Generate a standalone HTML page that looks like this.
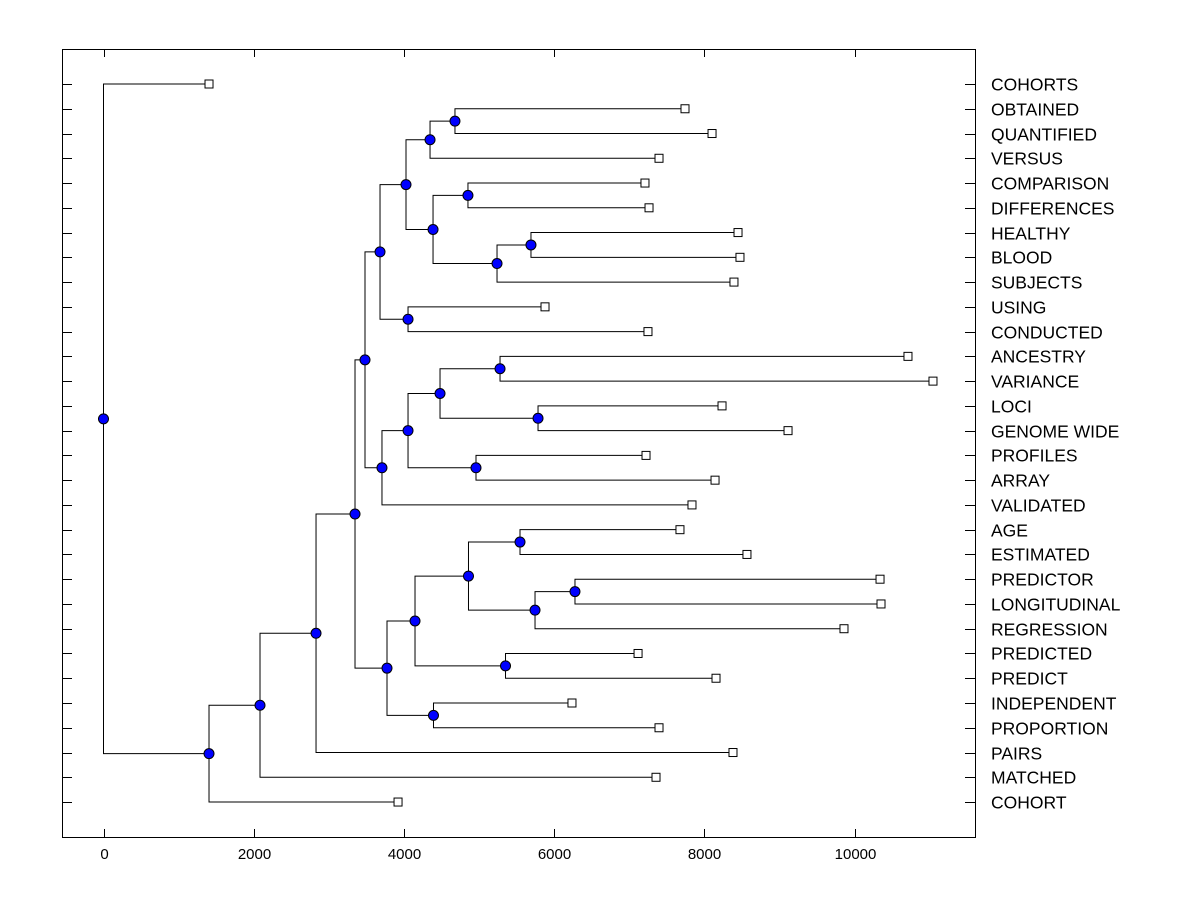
<!DOCTYPE html>
<html><head><meta charset="utf-8"><style>
html,body{margin:0;padding:0;background:#fff;}
svg{display:block;font-family:"Liberation Sans",Arial,sans-serif;}
</style></head><body>
<svg id="chart" width="1200" height="900" xmlns="http://www.w3.org/2000/svg">
<rect x="62.5" y="49.5" width="913" height="788" fill="none" stroke="#000" stroke-width="1"/>
<g id="axes"></g><g id="tree"></g><g id="marks"></g>
</svg>
<script>
const leafNames = ["COHORTS","OBTAINED","QUANTIFIED","VERSUS","COMPARISON","DIFFERENCES","HEALTHY","BLOOD","SUBJECTS","USING","CONDUCTED","ANCESTRY","VARIANCE","LOCI","GENOME WIDE","PROFILES","ARRAY","VALIDATED","AGE","ESTIMATED","PREDICTOR","LONGITUDINAL","REGRESSION","PREDICTED","PREDICT","INDEPENDENT","PROPORTION","PAIRS","MATCHED","COHORT"];
const leafValues = [1405,7743,8103,7397,7210,7264,8449,8475,8395,5879,7250,10712,11045,8236,9115,7224,8143,7836,7676,8568,10340,10353,9860,7118,8156,6238,7397,8382,7357,3922];
const mergeLeft  = [1,30,4,6,33,32,31,9,36,11,13,39,15,41,43,38,18,20,47,46,23,49,25,51,45,54,55,56,0];
const mergeRight = [2,3,5,7,8,34,35,10,37,12,14,40,16,42,17,44,19,21,22,48,24,50,26,52,53,27,28,29,57];
const mergeHeights = [4680,4348,4853,5692,5240,4388,4028,4055,3682,5280,5786,4481,4960,4055,3708,3482,5546,6278,5746,4860,5353,4148,4394,3775,3349,2830,2084,1405,0];
const xTicks = [0,2000,4000,6000,8000,10000];

const NS="http://www.w3.org/2000/svg";
const xScale = v => 103.5 + v*0.0751;
const yScale = i => 84 + i*24.76;
function mk(tag, attrs, parent){const e=document.createElementNS(NS,tag);for(const k in attrs)e.setAttribute(k,attrs[k]);parent.appendChild(e);return e;}
const axes=document.getElementById('axes'), tree=document.getElementById('tree'), marks=document.getElementById('marks');

xTicks.forEach(t=>{
  const x=Math.round(xScale(t))+0.5;
  let l=mk('line',{x1:x,x2:x,y1:837,y2:829,stroke:'#000'},axes);
  
  
  l=mk('line',{x1:x,x2:x,y1:49,y2:57,stroke:'#000'},axes);
  
  
  const tx=mk('text',{x:x,y:859,'text-anchor':'middle','font-size':'15'},axes);
  tx.textContent=t;
  
  
});

const nodeX=[], nodeY=[];
leafNames.forEach((n,i)=>{
  nodeX[i]=xScale(leafValues[i]); nodeY[i]=yScale(i);
  const y=Math.round(yScale(i))+0.5;
  let l=mk('line',{x1:62,x2:72,y1:y,y2:y,stroke:'#000'},axes);
  
  
  l=mk('line',{x1:965,x2:975,y1:y,y2:y,stroke:'#000'},axes);
  
  
  const tx=mk('text',{x:991,y:y+6,'font-size':'17.5'},axes);
  tx.textContent=n;
  
  
});
const n0=leafNames.length;
mergeHeights.forEach((h,k)=>{
  const id=n0+k, a=mergeLeft[k], b=mergeRight[k];
  const x=xScale(h), y=(nodeY[a]+nodeY[b])/2;
  nodeX[id]=x; nodeY[id]=y;
  const p=mk('path',{d:`M${nodeX[a]},${nodeY[a]}H${x}V${nodeY[b]}H${nodeX[b]}`,fill:'none',stroke:'#000','stroke-width':1},tree);
  
  
});
leafNames.forEach((n,i)=>{
  const r=mk('rect',{x:nodeX[i]-4,y:nodeY[i]-4,width:8,height:8,fill:'#fff',stroke:'#000'},marks);
  
  
});
mergeHeights.forEach((h,k)=>{
  const id=n0+k;
  const c=mk('circle',{cx:nodeX[id],cy:nodeY[id],r:5,fill:'#0000ff',stroke:'#000'},marks);
  
  
});
</script>
</body></html>
